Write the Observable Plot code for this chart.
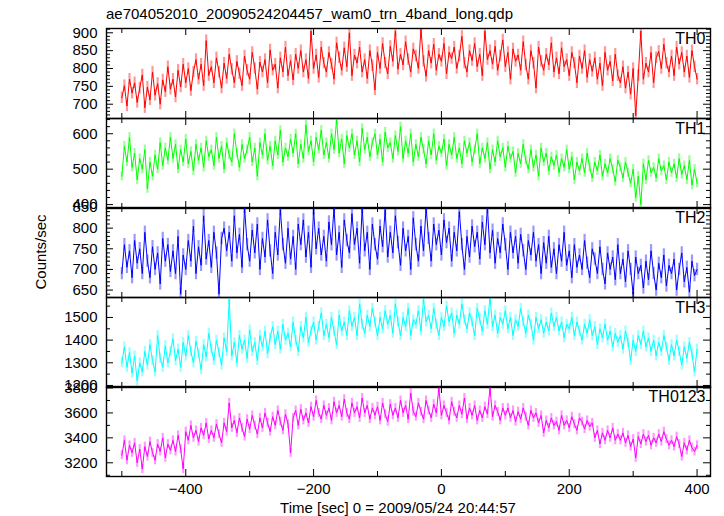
<!DOCTYPE html>
<html><head><meta charset="utf-8">
<script src="https://cdn.jsdelivr.net/npm/d3@7"></script>
<script src="https://cdn.jsdelivr.net/npm/@observablehq/plot@0.6"></script>
<style>
html,body{margin:0;padding:0;background:#fff;}
#root{position:relative;width:724px;height:516px;background:#fff;font-family:"Liberation Sans",Arial,Helvetica,sans-serif;color:#000;overflow:hidden}
.abs{position:absolute;white-space:nowrap;line-height:1}
svg{overflow:visible}
</style></head><body>
<div id="root"></div>
<script>
const title = "ae704052010_20090524204457_wam0_trn_4band_long.qdp";
const xLabel = "Time [sec] 0 = 2009/05/24 20:44:57";
const yLabel = "Counts/sec";

// time bins (s)
const time = d3.range(-500, 401, 4);

const th0 = [
718,752,695,770,731, 760,705,745,782,690, 748,712,790,725,758, 700,768,735,805,742,
770,720,795,748,812, 760,800,738,790,825, 770,812,752,878,780, 805,760,830,790,745,
815,772,840,798,760, 820,785,752,835,795, 770,845,800,742,818, 790,825,760,852,795,
812,745,830,790,860, 780,822,768,840,800, 850,790,825,772,905, 800,838,775,860,815,
790,845,812,770,872, 830,795,858,805,900, 780,838,815,860,790, 825,772,850,808,740,
845,800,870,815,785, 862,820,905,798,840, 810,875,825,790,855, 835,800,910,820,778,
850,815,868,795,840, 820,870,785,845,828, 860,800,835,890,815, 790,850,822,870,805,
840,780,905,825,850, 812,862,795,835,880, 805,845,770,855,820, 838,795,875,810,770,
850,815,745,860,820, 795,840,810,872,790, 830,785,858,805,825, 780,845,815,760,835,
800,850,775,825,792, 830,770,815,752,845, 795,820,765,840,780, 760,805,745,790,728,
800,668,780,905,770, 815,790,845,760,830, 848,800,868,815,790, 835,780,860,812,845,
790,835,775,850,805, 770];

const th1 = [
480,565,520,590,505, 545,470,530,500,555, 445,520,480,540,500, 575,510,560,525,590,
530,570,500,555,520, 585,515,550,495,570, 525,560,505,580,535, 555,510,590,530,565,
500,575,540,520,600, 545,505,570,530,555, 590,520,560,480,575, 540,600,525,565,510,
580,540,610,520,560, 535,585,545,600,515, 570,530,625,550,580, 520,590,555,610,540,
575,530,600,555,640, 545,585,515,595,560, 600,540,580,520,615, 555,590,535,575,600,
540,585,520,605,560, 575,530,595,550,620, 530,580,545,600,520, 570,535,590,555,515,
580,540,600,525,565, 545,585,510,570,540, 590,530,560,515,580, 545,575,520,555,600,
515,560,530,575,500, 555,520,580,535,560, 505,565,530,550,490, 545,515,570,525,500,
555,505,540,480,560, 520,545,495,535,510, 540,490,530,505,555, 500,535,470,520,495,
530,490,545,505,475, 520,495,540,480,515, 490,530,500,465,525, 505,475,520,490,460,
500,420,480,400,515, 470,525,490,505,475, 530,495,510,470,520, 490,515,475,530,485,
510,470,525,455,500, 460];

const th2 = [
690,760,705,745,680, 770,715,750,690,790, 720,680,755,700,740, 665,775,720,760,695,
745,690,780,640,735, 700,770,720,805,690, 755,710,830,725,770, 705,790,740,640,775,
800,745,790,720,830, 740,785,705,850,760, 720,795,740,810,700, 775,730,820,745,690,
790,735,845,760,715, 800,725,780,700,810, 760,820,730,790,705, 845,750,800,735,780,
720,815,760,850,735, 790,705,820,770,740, 835,760,800,715,850, 745,790,700,810,760,
725,805,755,845,730, 790,740,830,765,710, 800,745,780,700,825, 760,720,805,745,850,
775,720,810,760,795, 735,820,765,800,720, 790,745,840,760,700, 780,730,805,755,790,
725,815,760,850,740, 795,715,775,740,810, 760,700,790,740,780, 715,785,745,700,770,
735,790,720,760,690, 765,715,780,705,750, 690,760,720,790,710, 745,680,760,705,735,
700,770,715,680,750, 725,690,755,700,665, 740,700,730,675,760, 690,725,670,745,700,
640,730,690,710,655, 720,675,745,690,650, 715,680,735,660,710, 690,725,650,700,740,
670,705,645,720,685, 700];

const th3 = [
1300,1370,1280,1345,1255, 1330,1220,1300,1260,1350, 1290,1380,1310,1260,1420, 1320,1280,1375,1300,1350,
1405,1310,1360,1280,1390, 1330,1420,1350,1300,1395, 1340,1270,1380,1325,1430, 1360,1310,1400,1345,1290,
1410,1350,1580,1330,1390, 1300,1420,1360,1400,1320, 1445,1350,1390,1310,1420, 1370,1440,1340,1410,1460,
1380,1440,1360,1470,1400, 1430,1370,1480,1400,1350, 1460,1410,1500,1390,1440, 1480,1400,1460,1520,1420,
1470,1410,1500,1440,1380, 1510,1440,1480,1420,1530, 1460,1500,1420,1560,1470, 1430,1510,1460,1540,1480,
1420,1500,1450,1530,1470, 1510,1430,1560,1480,1420, 1500,1460,1540,1420,1490, 1470,1530,1440,1580,1480,
1510,1450,1540,1470,1420, 1500,1460,1550,1480,1520, 1430,1510,1470,1560,1490, 1450,1520,1480,1420,1540,
1490,1440,1530,1470,1590, 1460,1510,1430,1500,1470, 1530,1450,1500,1420,1490, 1460,1540,1480,1430,1510,
1470,1400,1500,1450,1490, 1430,1480,1440,1520,1460, 1500,1440,1480,1410,1470, 1450,1500,1420,1480,1440,
1400,1470,1430,1490,1420, 1460,1380,1450,1410,1470, 1400,1440,1370,1430,1390, 1420,1360,1440,1390,1310,
1400,1350,1420,1380,1440, 1370,1410,1350,1400,1330, 1390,1350,1420,1370,1310, 1380,1330,1400,1350,1290,
1370,1320,1390,1340,1260, 1360];

const th0123 = [
3260,3380,3220,3340,3280, 3360,3200,3310,3150,3330, 3250,3370,3280,3220,3350, 3290,3400,3240,3350,3300,
3380,3290,3420,3310,3150, 3450,3380,3500,3400,3460, 3370,3480,3420,3520,3390, 3460,3400,3510,3430,3360,
3520,3450,3680,3480,3540, 3440,3560,3480,3410,3550, 3470,3580,3500,3430,3560, 3480,3600,3520,3450,3570,
3500,3620,3530,3460,3590, 3510,3280,3560,3620,3500, 3630,3540,3600,3520,3650, 3570,3700,3600,3550,3660,
3580,3640,3540,3690,3600, 3660,3570,3710,3600,3550, 3680,3600,3650,3560,3720, 3600,3660,3550,3640,3580,
3650,3540,3680,3590,3530, 3670,3580,3640,3560,3700, 3600,3660,3550,3760,3610, 3570,3680,3610,3550,3700,
3620,3560,3670,3600,3800, 3580,3660,3600,3540,3690, 3610,3560,3660,3590,3720, 3550,3640,3580,3660,3540,
3620,3560,3650,3590,3800, 3570,3660,3610,3540,3640, 3580,3640,3560,3620,3530, 3610,3550,3640,3570,3500,
3620,3560,3600,3520,3580, 3440,3540,3480,3560,3500, 3530,3460,3580,3500,3540, 3480,3570,3510,3460,3560,
3530,3470,3540,3490,3520, 3400,3460,3350,3440,3380, 3460,3400,3480,3380,3430, 3380,3440,3360,3420,3330,
3390,3240,3410,3350,3430, 3370,3420,3340,3400,3360, 3430,3370,3450,3390,3340, 3380,3330,3410,3350,3250,
3360,3300,3380,3320,3290, 3340];

const bandNames = ["TH0", "TH1", "TH2", "TH3", "TH0123"];
const bandSeries = [th0, th1, th2, th3, th0123];
const bandColors = ["#ff0000", "#00ff00", "#0000ff", "#00ffff", "#ff00ff"];
const yDomains = [[660, 912], [389, 643], [632, 850], [1191, 1588], [3090, 3812]];
const yMajorTicks = [[700, 750, 800, 850, 900], [400, 500, 600], [650, 700, 750, 800, 850], [1200, 1300, 1400, 1500], [3200, 3400, 3600, 3800]];
const yMinorStep = [10, 20, 10, 50, 100];
const errHalf = [16, 13, 15, 22, 36];
const xMajorTicks = [-400, -200, 0, 200, 400];
const xMinorTicks = [-500, -300, -100, 100, 300];
const xDomain = [-524, 421];

const root = document.getElementById("root");
const W = 724, ML = 106, MR = 14;
const plotW = W - ML - MR;
const panelTop = 28, panelH = 89.6;
const FONT = '"Liberation Sans", Arial, Helvetica, sans-serif';
const fmt = d3.format("d");

function addText(txt, css) {
  const d = document.createElement("div");
  d.className = "abs";
  d.textContent = txt;
  Object.assign(d.style, css);
  root.appendChild(d);
  return d;
}

addText(title, {left: "106px", top: "6px", fontSize: "15px"});

bandNames.forEach((name, i) => {
  const last = i === bandNames.length - 1;
  const H = 90;
  const mb = last ? 40 : 0;
  const data = time.map((t, k) => ({t, v: bandSeries[i][k]})).filter(d => d.v != null);
  const [d0, d1] = yDomains[i];
  const step = yMinorStep[i];
  const minor = d3.range(Math.ceil(d0 / step) * step, d1 + 1e-9, step).filter(v => !yMajorTicks[i].includes(v));
  const major = yMajorTicks[i].filter(v => v >= d0 && v <= d1);
  const e = errHalf[i];
  const chart = Plot.plot({
    width: W,
    height: H + mb,
    marginLeft: ML,
    marginRight: MR,
    marginTop: 0,
    marginBottom: mb,
    style: {background: "transparent", overflow: "visible", fontSize: "15px", fontFamily: FONT, color: "#000"},
    x: last ? {domain: xDomain, ticks: xMajorTicks, tickSize: 0, tickPadding: 7, tickFormat: d => (d < 0 ? "\u2212" : "") + Math.abs(d), label: null} : {domain: xDomain, axis: null},
    y: {domain: yDomains[i], ticks: major, tickSize: 0, tickPadding: 9, tickFormat: fmt, label: null},
    marks: [
      Plot.ruleX(data, {x: "t", y1: d => d.v - e, y2: d => d.v + e, stroke: bandColors[i], strokeOpacity: 0.4, strokeWidth: 2.2, clip: true}),
      Plot.lineY(data, {x: "t", y: "v", stroke: bandColors[i], strokeWidth: 1, clip: true}),
      Plot.ruleY(major, {y: d => d, insetRight: plotW - 7, stroke: "#000"}),
      Plot.ruleY(major, {y: d => d, insetLeft: plotW - 7, stroke: "#000"}),
      Plot.ruleY(minor, {y: d => d, insetRight: plotW - 4, stroke: "#000"}),
      Plot.ruleY(minor, {y: d => d, insetLeft: plotW - 4, stroke: "#000"}),
      Plot.ruleX(xMajorTicks, {x: d => d, insetBottom: H - 7, stroke: "#000"}),
      Plot.ruleX(xMajorTicks, {x: d => d, insetTop: H - 7, stroke: "#000"}),
      Plot.ruleX(xMinorTicks, {x: d => d, insetBottom: H - 5, stroke: "#000"}),
      Plot.ruleX(xMinorTicks, {x: d => d, insetTop: H - 5, stroke: "#000"}),
      Plot.frame({stroke: "#000", strokeWidth: 1.4}),
      Plot.text([name], {frameAnchor: "top-right", text: d => d, dx: -5, dy: 4, lineAnchor: "top", textAnchor: "end", fontSize: 16, fill: "#000"})
    ]
  });
  chart.style.position = "absolute";
  chart.style.left = "0px";
  chart.style.top = (panelTop + i * panelH) + "px";
  root.appendChild(chart);
});

addText(xLabel, {left: "398px", top: "500px", fontSize: "15px", transform: "translateX(-50%)"});
addText(yLabel, {left: "40px", top: "252px", fontSize: "15px", transform: "translate(-50%,-50%) rotate(-90deg)"});
</script>
</body></html>
